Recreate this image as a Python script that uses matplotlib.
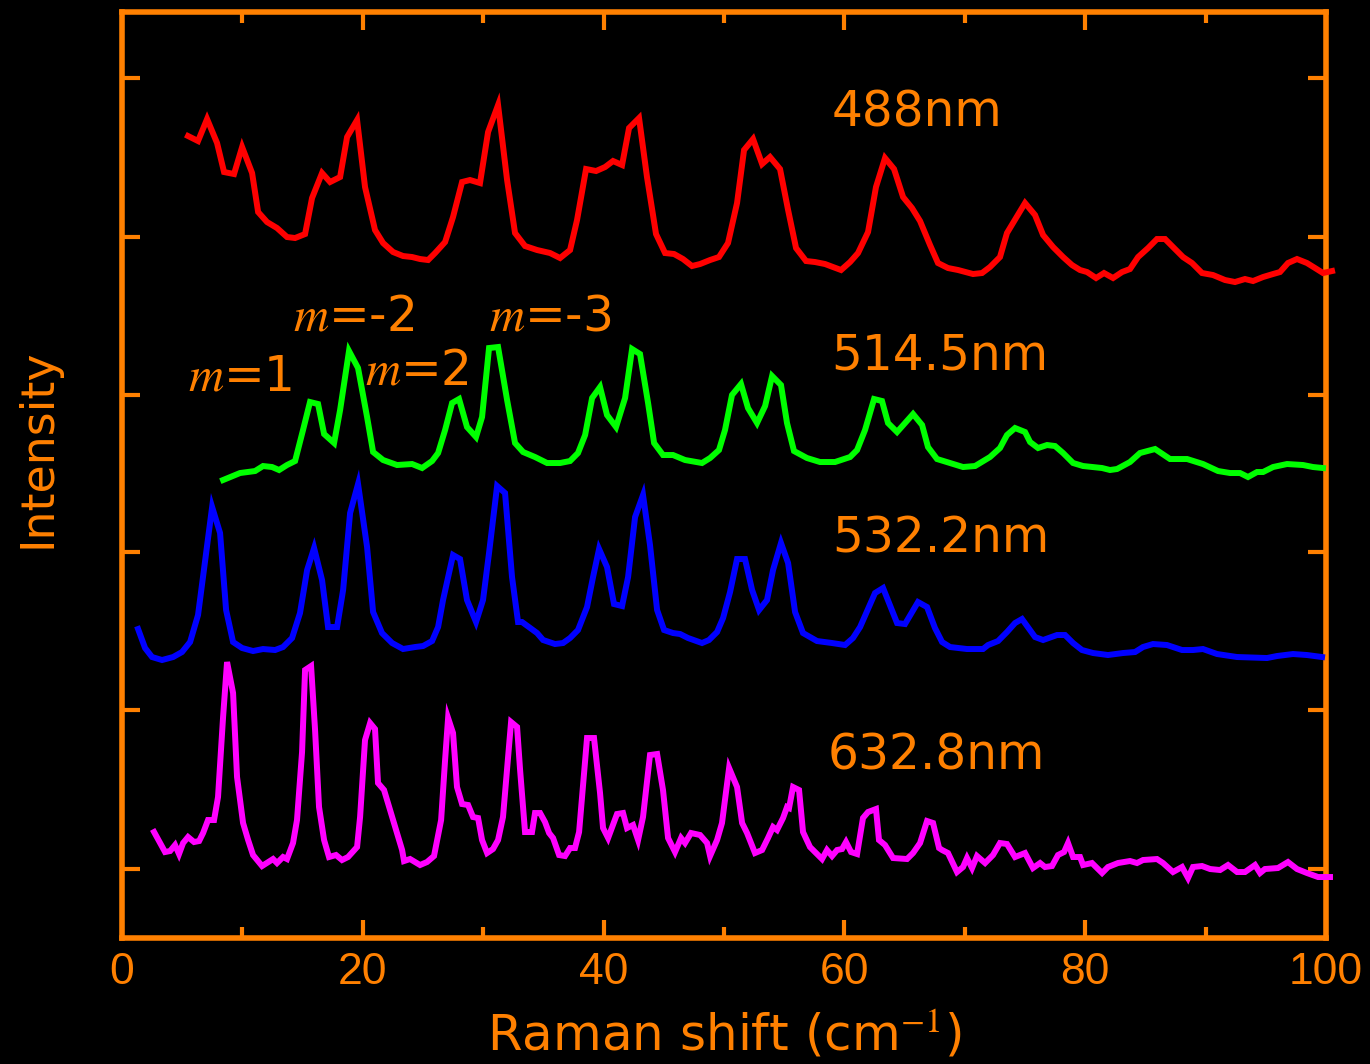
import numpy as np
import matplotlib
matplotlib.use("Agg")
import matplotlib.pyplot as plt
from matplotlib.ticker import MultipleLocator

plt.rcParams['font.family'] = ['Liberation Sans', 'DejaVu Sans']
plt.rcParams['mathtext.fontset'] = 'stix'

ORANGE = '#FF8000'
LABEL_FONT = ['DejaVu Sans']

# ---------------- data (Raman shift in cm^-1, intensity in arb. units, offset-stacked) ----------------
x_488 = [5.48, 6.31, 7.06, 7.89, 8.47, 9.30, 9.97, 10.80, 11.30, 12.04, 12.87, 13.70, 14.37, 15.20, 15.78,
         16.61, 17.28, 18.11, 18.69, 19.52, 20.18, 21.01, 21.68, 22.51, 23.34, 24.09, 24.75, 25.42, 26.00,
         26.83, 27.49, 28.24, 28.90, 29.73, 30.40, 31.23, 31.98, 32.64, 33.47, 34.47, 35.55, 36.38, 37.21,
         37.79, 38.54, 39.37, 40.12, 40.78, 41.53, 42.11, 42.94, 43.60, 44.35, 45.10, 45.85, 46.59, 47.34,
         48.01, 48.84, 49.58, 50.33, 51.08, 51.66, 52.41, 53.16, 53.82, 54.65, 55.32, 55.98, 56.81, 57.56,
         58.39, 59.05, 59.72, 60.47, 61.13, 61.96, 62.62, 63.37, 64.12, 64.87, 65.61, 66.28, 67.11, 67.77,
         68.60, 69.44, 70.68, 71.43, 72.09, 72.92, 73.50, 75.00, 75.83, 76.50, 77.33, 78.16, 78.90, 79.57,
         80.15, 80.90, 81.56, 82.31, 83.06, 83.72, 84.39, 85.22, 85.96, 86.63, 87.29, 88.12, 88.87, 89.70,
         90.61, 91.61, 92.44, 93.27, 93.94, 94.77, 95.60, 96.18, 96.84, 97.59, 98.42, 99.09, 99.75, 100.50]
y_488 = [802, 797, 819, 795, 766, 764, 791, 765, 726, 716, 710, 701, 700, 704, 740,
         765, 756, 761, 801, 818, 751, 708, 695, 686, 682, 681, 679, 678, 685,
         696, 721, 756, 758, 755, 806, 833, 758, 705, 692, 688, 685, 680, 688,
         718, 769, 767, 771, 777, 773, 810, 820, 761, 704, 685, 684, 679, 672,
         674, 678, 681, 695, 735, 788, 799, 774, 781, 769, 728, 690, 677, 676,
         674, 671, 668, 676, 685, 706, 751, 780, 769, 741, 730, 717, 693, 675,
         670, 668, 664, 665, 671, 681, 705, 735, 723, 703, 691, 681, 673, 668,
         666, 660, 665, 660, 666, 669, 681, 690, 699, 699, 691, 681, 675, 665,
         663, 658, 656, 659, 657, 661, 664, 666, 675, 679, 675, 670, 665, 667]

x_514 = [8.39, 9.80, 11.05, 11.71, 12.46, 13.04, 13.70, 14.37, 15.03, 15.61, 16.28, 16.78, 17.61, 18.11,
         18.85, 19.60, 20.35, 20.85, 21.68, 22.84, 24.09, 24.92, 25.75, 26.25, 26.83, 27.41, 27.99, 28.65,
         29.40, 29.90, 30.48, 31.23, 31.98, 32.64, 33.31, 34.30, 35.30, 36.38, 37.21, 37.87, 38.46, 39.04,
         39.70, 40.28, 41.03, 41.78, 42.36, 43.02, 43.69, 44.19, 44.93, 45.76, 46.76, 48.17, 48.84, 49.58,
         50.08, 50.66, 51.41, 51.99, 52.74, 53.41, 53.99, 54.73, 55.23, 55.81, 56.89, 57.97, 59.22, 60.47,
         61.05, 61.71, 62.46, 63.12, 63.62, 64.37, 65.70, 66.45, 66.94, 67.69, 68.77, 69.85, 70.85, 72.09,
         72.92, 73.50, 74.17, 75.00, 75.42, 76.08, 76.83, 77.49, 78.16, 78.99, 79.82, 81.40, 82.06, 82.64,
         83.72, 84.55, 85.80, 87.04, 88.46, 89.78, 91.03, 92.03, 92.86, 93.52, 94.27, 94.77, 95.60, 96.76,
         98.09, 98.92, 99.75]
y_514 = [458, 465, 467, 472, 471, 468, 473, 477, 508, 536, 534, 504, 495, 528,
         587, 570, 521, 486, 478, 473, 474, 470, 477, 485, 508, 535, 539, 511,
         501, 521, 590, 591, 538, 495, 486, 481, 475, 475, 477, 485, 503, 540,
         551, 523, 511, 540, 589, 584, 535, 495, 483, 483, 478, 475, 480, 488,
         508, 543, 554, 530, 515, 532, 562, 553, 515, 487, 480, 476, 476, 481,
         488, 508, 539, 537, 515, 506, 524, 513, 491, 479, 475, 471, 472, 481,
         490, 503, 510, 506, 496, 490, 493, 492, 485, 475, 472, 470, 468, 469,
         476, 485, 489, 479, 479, 474, 467, 465, 465, 461, 466, 466, 471, 474,
         473, 471, 470]

x_532 = [1.33, 1.91, 2.49, 3.32, 4.24, 4.98, 5.65, 6.31, 7.48, 8.14, 8.64, 9.22, 9.97, 10.88, 11.71, 12.71,
         13.37, 14.12, 14.78, 15.37, 15.95, 16.61, 17.11, 17.86, 18.36, 18.94, 19.60, 20.35, 20.85, 21.59,
         22.43, 23.34, 24.34, 25.00, 25.75, 26.25, 26.66, 27.49, 28.07, 28.65, 29.40, 29.98, 30.48, 31.15,
         31.81, 32.39, 32.89, 33.22, 34.47, 34.97, 35.96, 36.63, 37.21, 37.87, 38.62, 39.12, 39.62, 40.28,
         40.86, 41.53, 42.03, 42.61, 43.27, 43.85, 44.44, 45.02, 45.76, 46.35, 47.01, 48.17, 48.75, 49.42,
         49.92, 50.50, 51.08, 51.74, 52.33, 52.91, 53.57, 54.07, 54.73, 55.32, 55.90, 56.56, 57.72, 58.97,
         60.05, 60.71, 61.30, 62.54, 63.21, 64.37, 65.03, 66.11, 66.86, 67.52, 68.11, 68.77, 70.18, 71.51,
         71.93, 72.76, 73.50, 74.17, 74.75, 75.83, 76.50, 77.66, 78.32, 78.99, 79.73, 80.65, 81.89, 83.14,
         84.14, 84.80, 85.63, 86.79, 88.04, 88.95, 89.78, 90.95, 92.61, 95.10, 95.93, 97.26, 98.42, 99.67]
y_532 = [309, 290, 281, 278, 281, 286, 296, 323, 431, 405, 328, 296, 290, 287, 289, 288,
         291, 300, 325, 368, 390, 358, 311, 311, 348, 425, 454, 391, 326, 305,
         295, 289, 291, 292, 297, 311, 338, 383, 379, 338, 316, 338, 385, 452,
         445, 361, 316, 316, 305, 298, 294, 295, 300, 308, 331, 361, 389, 371,
         334, 332, 361, 421, 443, 393, 328, 308, 305, 304, 300, 295, 298, 306,
         320, 346, 379, 379, 348, 328, 338, 368, 395, 375, 326, 305, 297, 295,
         293, 300, 311, 345, 350, 315, 314, 336, 331, 310, 296, 291, 289, 289,
         293, 297, 306, 315, 319, 301, 298, 303, 303, 295, 288, 285, 283, 285,
         286, 291, 294, 293, 288, 288, 289, 284, 281, 280, 282, 284, 283, 281]

x_633 = [2.66, 3.57, 3.99, 4.40, 4.73, 5.07, 5.48, 5.98, 6.40, 6.73, 7.14, 7.64, 7.97, 8.39, 8.72, 9.22,
         9.55, 10.05, 10.47, 10.88, 11.63, 12.54, 12.87, 13.37, 13.70, 14.20, 14.53, 14.95, 15.20, 15.70,
         16.03, 16.36, 16.78, 17.19, 17.77, 18.27, 18.77, 19.52, 19.77, 20.18, 20.60, 21.01, 21.26, 21.76,
         22.26, 22.84, 23.26, 23.42, 23.92, 24.75, 25.33, 25.91, 26.50, 26.83, 27.08, 27.49, 27.82, 28.24,
         28.74, 29.15, 29.57, 29.90, 30.32, 30.81, 31.23, 31.64, 32.31, 32.81, 33.06, 33.47, 34.05, 34.30,
         34.72, 35.13, 35.47, 35.80, 36.30, 36.79, 37.21, 37.62, 37.96, 38.62, 39.20, 39.70, 39.95, 40.37,
         41.11, 41.61, 41.94, 42.44, 42.86, 43.27, 43.85, 44.44, 44.93, 45.35, 45.93, 46.43, 46.76, 47.26,
         48.01, 48.59, 48.84, 49.42, 49.83, 50.42, 51.08, 51.50, 51.91, 52.57, 53.16, 53.65, 54.07, 54.40,
         54.90, 55.23, 55.40, 55.73, 56.23, 56.56, 57.14, 57.56, 58.14, 58.55, 58.97, 59.39, 59.80, 60.13,
         60.55, 61.05, 61.54, 61.96, 62.62, 62.87, 63.37, 64.04, 65.20, 65.70, 66.28, 66.86, 67.36, 67.86,
         68.11, 68.60, 69.35, 69.85, 70.18, 70.60, 71.01, 71.68, 72.34, 72.92, 73.50, 74.17, 75.00, 75.66,
         76.25, 76.66, 77.24, 77.74, 78.24, 78.57, 78.99, 79.57, 79.82, 80.56, 81.40, 81.89, 82.72, 83.72,
         84.30, 84.80, 85.96, 86.46, 87.29, 88.04, 88.54, 88.95, 89.70, 90.37, 91.20, 91.86, 92.61, 93.27,
         94.10, 94.52, 94.93, 96.01, 96.84, 97.59, 98.42, 99.34, 100.33]
y_633 = [106, 86, 87, 93, 84, 95, 101, 96, 97, 105, 118, 118, 141, 221, 276, 245,
         161, 115, 98, 83, 72, 79, 75, 81, 79, 95, 118, 186, 268, 272,
         208, 131, 98, 81, 83, 78, 81, 91, 121, 198, 215, 209, 155, 148,
         128, 105, 88, 77, 79, 73, 76, 82, 118, 178, 220, 205, 151, 134,
         133, 121, 120, 98, 85, 89, 98, 121, 216, 211, 168, 106, 106, 125,
         125, 116, 105, 100, 83, 82, 90, 90, 106, 200, 200, 145, 110, 100,
         124, 125, 110, 113, 98, 121, 183, 184, 148, 100, 86, 100, 95, 105,
         103, 95, 82, 98, 115, 170, 151, 115, 105, 85, 88, 100, 111, 108,
         120, 131, 130, 151, 148, 106, 91, 86, 79, 88, 82, 88, 89, 96,
         86, 84, 120, 126, 129, 98, 93, 80, 79, 85, 95, 117, 115, 90,
         88, 85, 66, 71, 80, 70, 82, 75, 83, 95, 94, 81, 85, 70,
         75, 71, 72, 83, 86, 95, 81, 81, 73, 75, 65, 71, 75, 77,
         75, 78, 79, 75, 66, 71, 60, 71, 72, 69, 68, 73, 66, 66,
         73, 65, 69, 70, 76, 69, 65, 61, 61]

series = [
    (x_488, y_488, '#FF0000', '488nm'),
    (x_514, y_514, '#00FF00', '514.5nm'),
    (x_532, y_532, '#0000FF', '532.2nm'),
    (x_633, y_633, '#FF00FF', '632.8nm'),
]
label_pos = [(58.9, 826), (58.9, 583), (59.0, 400), (58.6, 183)]   # (x, y) of wavelength labels
mode_labels = ['=1', '=-2', '=2', '=-3']
mode_pos = [(5.5, 562), (14.2, 622), (20.2, 568), (30.5, 622)]
y_ticks = [69, 228, 386, 543, 701, 860]

# ---------------- figure ----------------
fig = plt.figure(figsize=(13.70, 10.64), dpi=100, facecolor='black')
ax = fig.add_axes([0.0891, 0.1184, 0.8788, 0.8703])
ax.set_facecolor('black')

for xs, ys, c, _ in series:
    ax.plot(xs, ys, color=c, lw=4.3, solid_joinstyle='miter', clip_on=False, zorder=3)

for (xs, ys, c, lab), (lx, ly) in zip(series, label_pos):
    ax.text(lx, ly, lab, color=ORANGE, fontsize=35, va='center', ha='left',
            family=LABEL_FONT)

for lab, (mx, my) in zip(mode_labels, mode_pos):
    ax.text(mx, my, r'$m$' + lab, color=ORANGE, fontsize=35, va='center', ha='left',
            family=LABEL_FONT)

ax.set_xlim(0, 100)
ax.set_ylim(0, 926)
ax.xaxis.set_major_locator(MultipleLocator(20))
ax.xaxis.set_minor_locator(MultipleLocator(10))
ax.set_yticks(y_ticks)
ax.set_yticklabels([])

for sp in ax.spines.values():
    sp.set_color(ORANGE)
    sp.set_linewidth(4)

ax.tick_params(axis='both', which='both', direction='in', color=ORANGE, width=3,
               top=True, right=True, labelcolor=ORANGE, labelsize=32, pad=10)
ax.tick_params(axis='both', which='major', length=13)
ax.tick_params(axis='both', which='minor', length=8)

ax.set_xlabel('Raman shift (cm$^{-1}$)', color=ORANGE, fontsize=36, labelpad=12,
              family=LABEL_FONT)
ax.set_ylabel('Intensity', color=ORANGE, fontsize=33, labelpad=34, family=LABEL_FONT)
ax.yaxis.label.set_y(0.529)

fig.savefig('out.png', dpi=100, facecolor='black')
